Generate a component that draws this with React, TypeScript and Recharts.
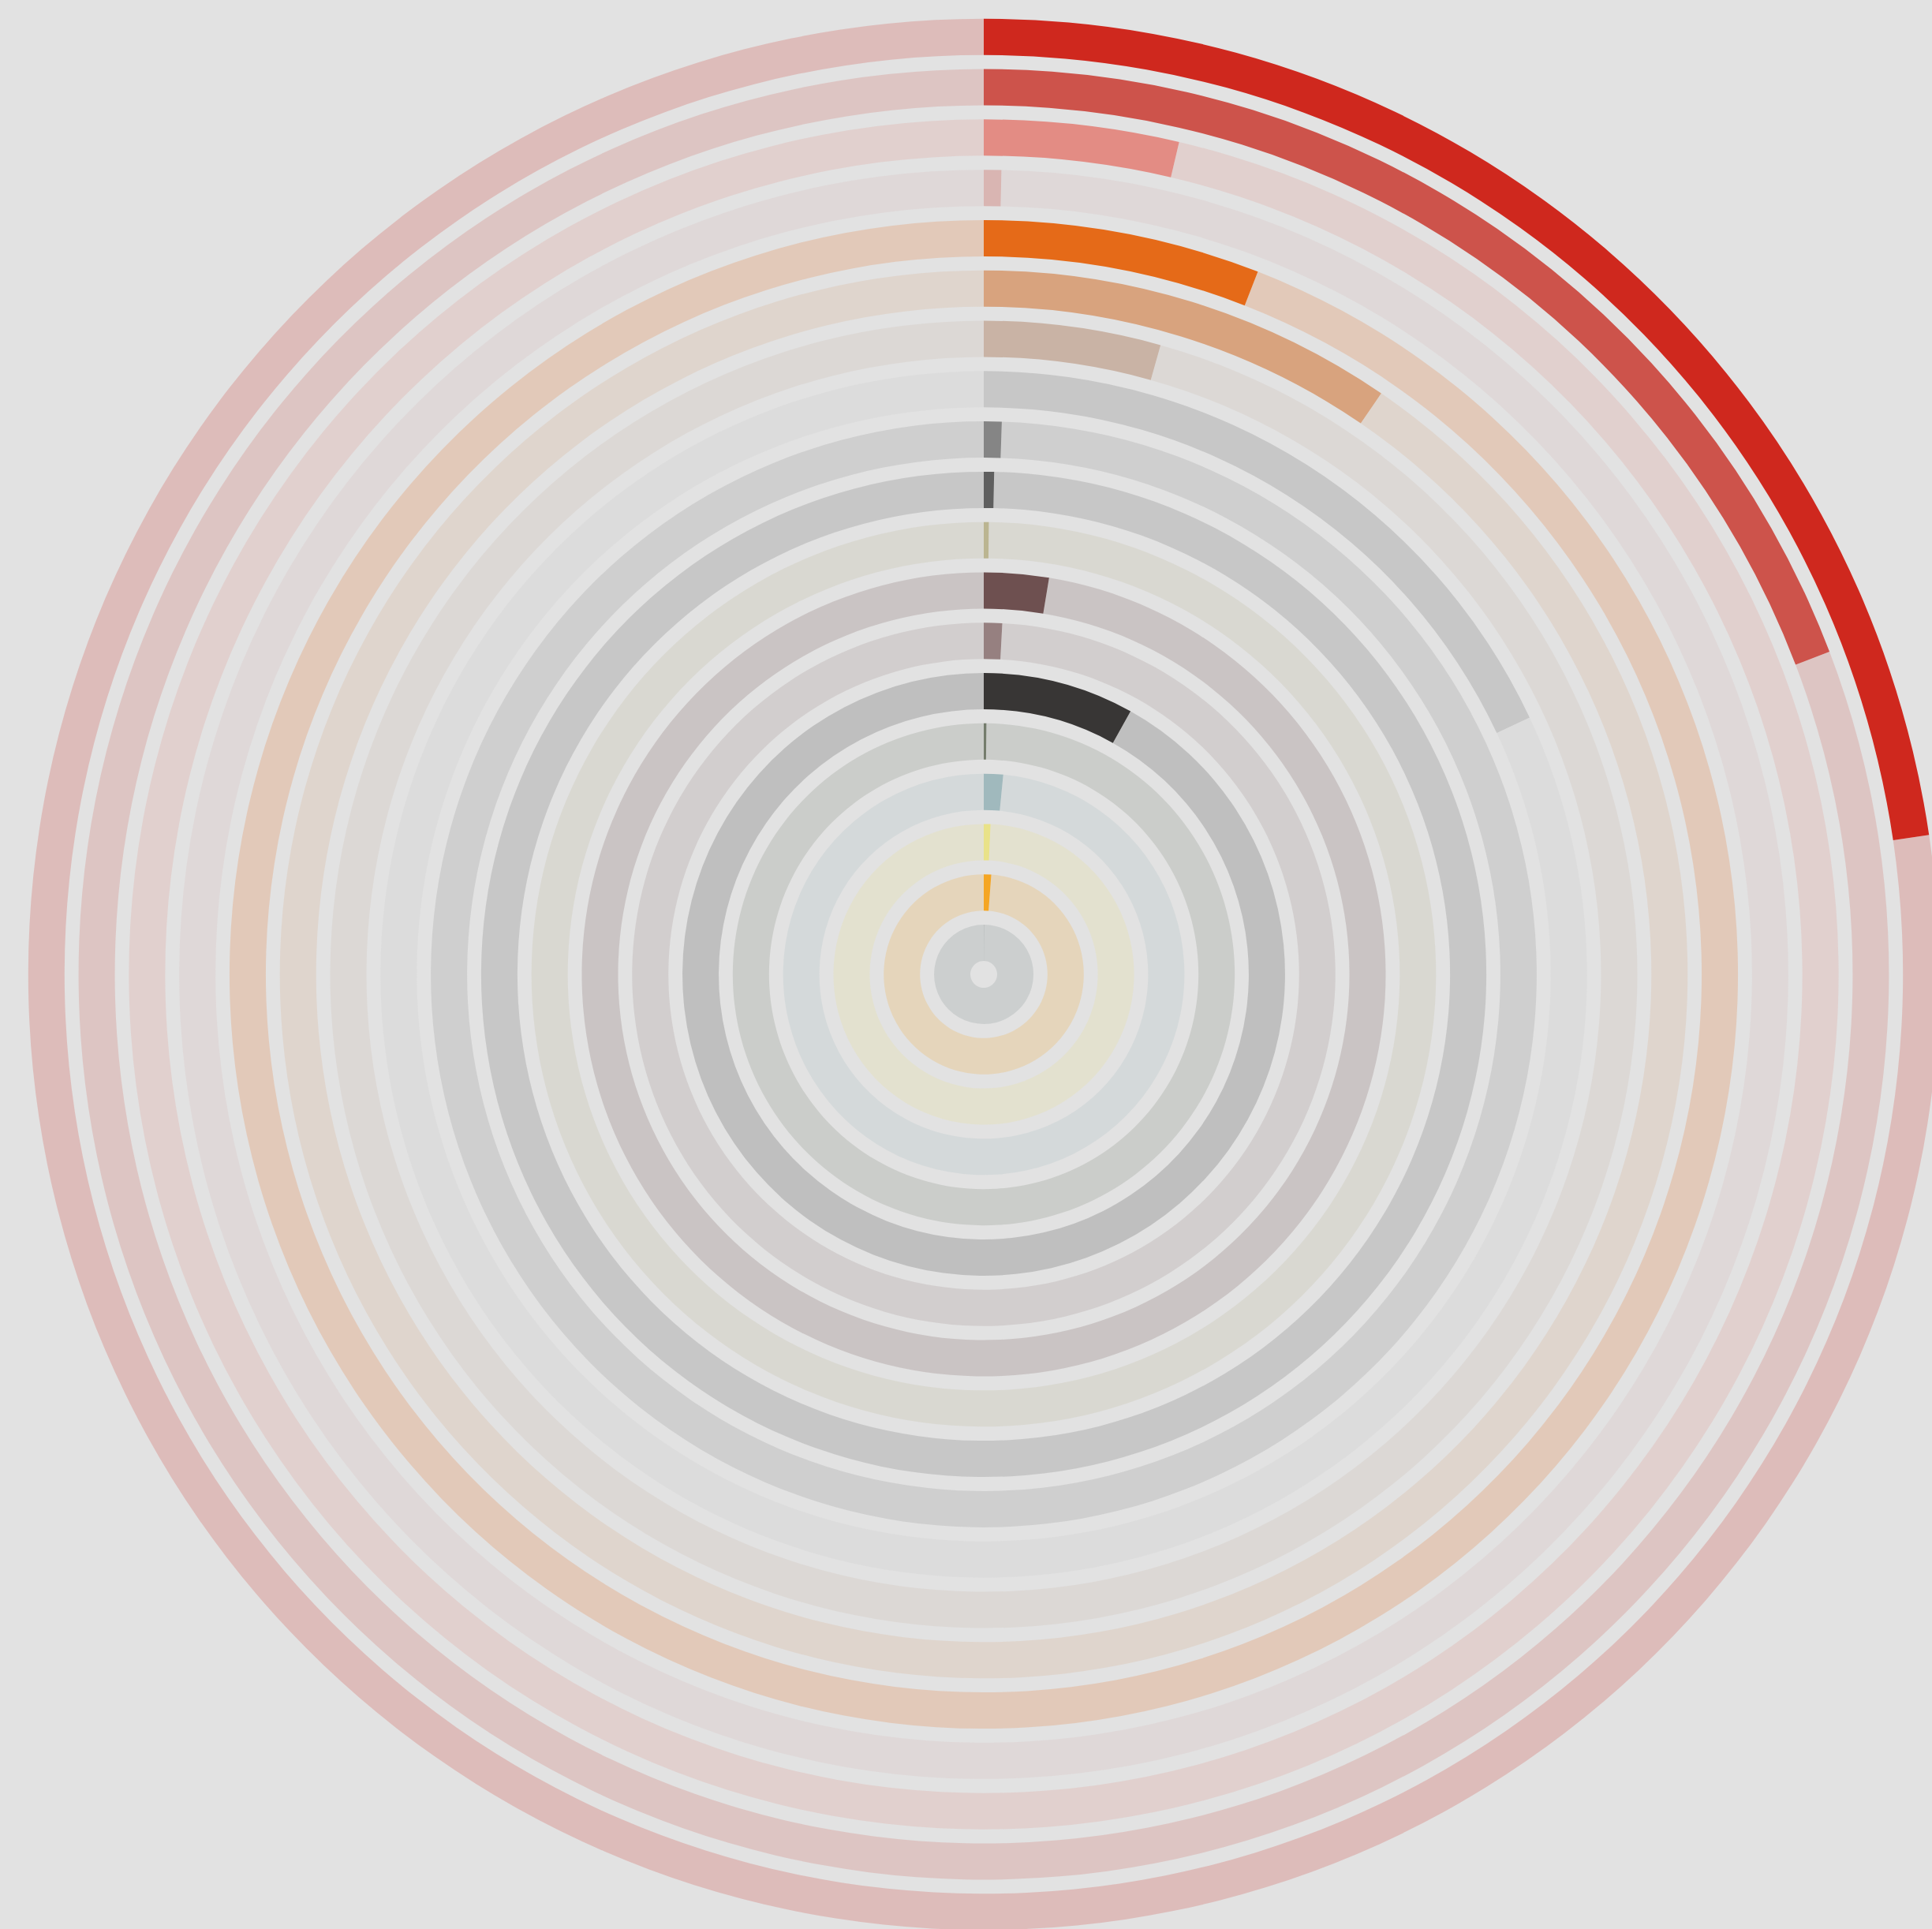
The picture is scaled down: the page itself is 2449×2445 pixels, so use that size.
import React from "react";
import { RadialBarChart, RadialBar, PolarAngleAxis, Cell } from "recharts";

// rings listed from the centre outwards
const categories = [
  "r19", "r18", "r17", "r16", "r15", "r14", "r13", "r12", "r11", "r10",
  "r09", "r08", "r07", "r06", "r05", "r04", "r03", "r02", "r01",
];

// share of the total, in percent
const shares = [
  0.05, 1.2, 0.72, 1.55, 0.17, 8.1, 0.84, 2.6, 0.18, 0.33,
  0.52, 18.0, 4.36, 9.55, 5.92, 0.35, 3.67, 19.2, 22.67,
];

const palette = [
  "#7a8585", "#f5a623", "#e9e288", "#a0b9bd", "#747c6c", "#383635", "#968080", "#6e5050", "#bbb591", "#5f5f5f",
  "#858585", "#c7c7c7", "#c9b3a5", "#d8a37e", "#e56a18", "#d9b5b2", "#e38c84", "#cd534b", "#cf281e",
];

// the faded track is the rest of the circle, up to 100 %
const data = categories.map((name, i) => ({ name, share: shares[i], rest: 100 - shares[i] }));

export default function App() {
  return (
    <div
      style={{
        position: "absolute",
        left: 0,
        top: 0,
        width: 2449,
        height: 2445,
        background: "#e2e2e2",
        overflow: "hidden",
      }}
    >
      <RadialBarChart
        width={2449}
        height={2445}
        data={data}
        cx={1247}
        cy={1235}
        innerRadius={8}
        outerRadius={1220}
        startAngle={90}
        endAngle={-270}
        barCategoryGap={9}
        margin={{ top: 0, right: 0, bottom: 0, left: 0 }}
      >
        <PolarAngleAxis type="number" domain={[0, 100]} tick={false} axisLine={false} />
        <RadialBar dataKey="share" stackId="ring" isAnimationActive={false}>
          {data.map((d, i) => (
            <Cell key={d.name} fill={palette[i]} />
          ))}
        </RadialBar>
        <RadialBar dataKey="rest" stackId="ring" isAnimationActive={false}>
          {data.map((d, i) => (
            <Cell key={d.name} fill={palette[i]} fillOpacity={0.2} />
          ))}
        </RadialBar>
      </RadialBarChart>
    </div>
  );
}
